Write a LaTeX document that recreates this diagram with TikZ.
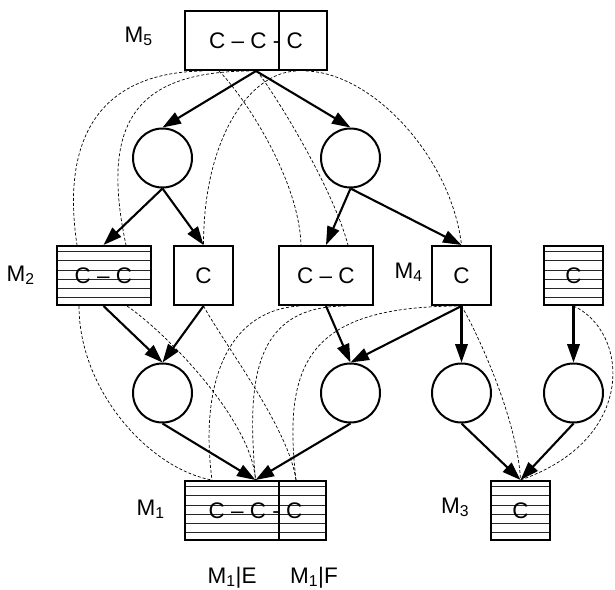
\documentclass[tikz,border=0pt]{standalone}
\usepackage{fontspec}
\setmainfont{Liberation Sans}
\usetikzlibrary{arrows.meta,calc}
\begin{document}
\begin{tikzpicture}[x=1pt,y=-1pt,
  txt/.style={font=\fontsize{22.5}{26}\selectfont},
  box/.style={txt,draw,line width=2pt,inner sep=0pt,minimum height=59pt,fill=white},
  sbox/.style={box,minimum width=59pt},
  wbox/.style={box,minimum width=94pt},
  hatched/.style={path picture={\foreach \k in {0,...,5}{\draw[line width=1pt,black!85] ([yshift=-5.7pt-\k*9.2pt]path picture bounding box.north west) -- ([yshift=-5.7pt-\k*9.2pt]path picture bounding box.north east);}}},
  place/.style={circle,draw,line width=2pt,minimum size=59pt,inner sep=0pt},
  arr/.style={-{Triangle[length=18.5pt,width=12.5pt]},line width=2.1pt},
  map/.style={dash pattern=on 3pt off 2pt,line width=0.7pt},
  lbl/.style={txt,anchor=base west,inner sep=0pt}
]
\useasboundingbox (0,0) rectangle (615,589);

% boxes
\node[box,minimum width=142pt] (m5) at (256,40.5) {C – C - C};
\node[wbox,hatched] (m2) at (103.5,275.5) {C – C};
\node[sbox] (c1) at (203.5,275.5) {C};
\node[wbox] (cc) at (326,275.5) {C – C};
\node[sbox] (m4) at (461.5,275.5) {C};
\node[sbox,hatched] (ch) at (573.5,275.5) {C};
\node[box,hatched,minimum width=141pt] (m1) at (255.5,510.5) {C – C - C};
\node[sbox,hatched] (m3) at (520.5,510.5) {C};
\draw[line width=2pt] ([xshift=95pt]m5.north west) -- ([xshift=95pt]m5.south west);
\draw[line width=2pt] ([xshift=95pt]m1.north west) -- ([xshift=95pt]m1.south west);

% circles
\node[place] (p1) at (162.5,158) {};
\node[place] (p2) at (350.5,158) {};
\node[place] (q1) at (162.5,393) {};
\node[place] (q2) at (350.5,393) {};
\node[place] (q3) at (461.5,393) {};
\node[place] (q4) at (573.5,393) {};

% labels
\node[lbl] (lm5) at (124.5,42) {M\textsubscript{5}};
\node[lbl] (lm2) at (6.5,281) {M\textsubscript{2}};
\node[lbl] (lm4) at (394.5,278) {M\textsubscript{4}};
\node[lbl] (lm1) at (136.5,515) {M\textsubscript{1}};
\node[lbl] (lm3) at (441,513) {M\textsubscript{3}};
\node[lbl] (lme) at (207.5,583) {M\textsubscript{1}|E};
\node[lbl] (lmf) at (290,583) {M\textsubscript{1}|F};

% solid arrows
\draw[arr] (m5.south) -- (p1.north);
\draw[arr] (m5.south) -- (p2.north);
\draw[arr] (p1.south) -- (m2.north);
\draw[arr] (p1.south) -- (c1.north);
\draw[arr] (p2.south) -- (cc.north);
\draw[arr] (p2.south) -- (m4.north);
\draw[arr] (m2.south) -- (q1.north);
\draw[arr] (c1.south) -- (q1.north);
\draw[arr] (cc.south) -- (q2.north);
\draw[arr] (m4.south) -- (q2.north);
\draw[arr] (m4.south) -- (q3.north);
\draw[arr] (ch.south) -- (q4.north);
\draw[arr] (q1.south) -- (m1.north);
\draw[arr] (q2.south) -- (m1.north);
\draw[arr] (q3.south) -- (m3.north);
\draw[arr] (q4.south) -- (m3.north);

% dashed mappings, upper
\draw[map] ([xshift=18pt]m5.south west) .. controls +(-103,2) and +(-16,-106) .. ([xshift=21.5pt]m2.north west);
\draw[map] ([xshift=65pt]m5.south west) .. controls +(-110,1) and +(-27,-126) .. ([xshift=70.5pt]m2.north west);
\draw[map] ([xshift=112pt]m5.south west) .. controls +(-47,2) and +(0,-106) .. (c1.north);
\draw[map] ([xshift=35pt]m5.south west) .. controls +(25,25) and +(-2,-66) .. ([xshift=23pt]cc.north west);
\draw[map] ([xshift=73pt]m5.south west) .. controls +(22,29) and +(-15,-56) .. ([xshift=70pt]cc.north west);
\draw[map] ([xshift=122pt]m5.south west) .. controls +(68,2) and +(-10,-86) .. (m4.north);

% dashed mappings, lower
\draw[map] ([xshift=23.5pt]m2.south west) .. controls +(0,85) and +(-62,-11) .. ([xshift=28pt]m1.north west);
\draw[map] ([xshift=71.5pt]m2.south west) .. controls +(37,25) and +(-4,-61) .. (m1.north);
\draw[map] (c1.south) .. controls +(22,40) and +(-7,-51) .. ([xshift=112pt]m1.north west);
\draw[map] ([xshift=21pt]cc.south west) .. controls +(-75,5) and +(-12,-91) .. ([xshift=28pt]m1.north west);
\draw[map] ([xshift=68pt]cc.south west) .. controls +(-92,0) and +(-9,-101) .. (m1.north);
\draw[map] (m4.south) .. controls +(-150,0) and +(-14,-121) .. ([xshift=112pt]m1.north west);
\draw[map] (m4.south) .. controls +(15,25) and +(-3,-61) .. (m3.north);
\draw[map] (ch.south) .. controls +(55,25) and +(118,-41) .. (m3.north);
\end{tikzpicture}
\end{document}
